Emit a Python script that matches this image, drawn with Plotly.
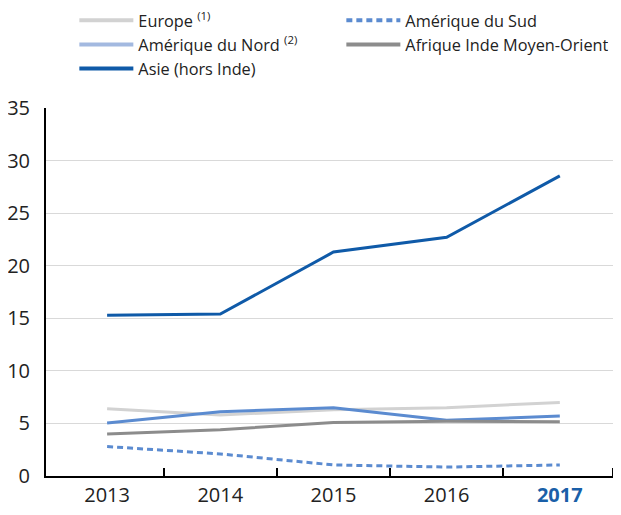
import plotly.graph_objects as go

years = [2013, 2014, 2015, 2016, 2017]
tick_labels = ["2013", "2014", "2015", "2016", "<b><span style='color:#1a5fa8'>2017</span></b>"]

europe = [6.4, 5.8, 6.3, 6.5, 7.0]
amerique_sud = [2.8, 2.1, 1.05, 0.85, 1.05]
amerique_nord = [5.05, 6.1, 6.5, 5.3, 5.7]
afrique_inde_mo = [4.0, 4.4, 5.1, 5.2, 5.15]
asie = [15.3, 15.4, 21.3, 22.7, 28.55]

names = ["Europe <sup>(1)</sup>", "Amérique du Sud", "Amérique du Nord <sup>(2)</sup>",
         "Afrique Inde Moyen-Orient", "Asie (hors Inde)"]
series = [europe, amerique_sud, amerique_nord, afrique_inde_mo, asie]
line_colors = ["#d2d2d2", "#5b8bd0", "#5b8bd0", "#8c8c8c", "#0f5aa8"]
legend_colors = ["#d2d2d2", "#5b8bd0", "#a3b9e0", "#8c8c8c", "#0f5aa8"]
dashes = ["solid", "6px,4px", "solid", "solid", "solid"]

fig = go.Figure()
for name, vals, lc, dash in zip(names, series, line_colors, dashes):
    fig.add_trace(go.Scatter(x=years, y=vals, mode="lines", showlegend=False,
                             line=dict(color=lc, width=3, dash=dash), hoverinfo="skip"))
for name, lc, dash in zip(names, legend_colors, dashes):
    fig.add_trace(go.Scatter(x=[None], y=[None], mode="lines", name=name,
                             line=dict(color=lc, width=4, dash=dash)))

fig.update_layout(
    width=613, height=507,
    margin=dict(l=38, r=8, t=100, b=39, autoexpand=False),
    paper_bgcolor="white", plot_bgcolor="white",
    font=dict(family="Open Sans, Noto Sans, sans-serif", color="#222222"),
    legend=dict(orientation="h", x=0.05, xanchor="left", yref="paper", y=1.285, yanchor="top",
                entrywidth=198, entrywidthmode="pixels", font=dict(size=16.3, color="#222222"),
                itemwidth=54, tracegroupgap=0, bgcolor="rgba(0,0,0,0)"),
    xaxis=dict(range=[2012.46, 2017.47], tickvals=years, ticktext=tick_labels, ticks="",
               showline=True, linecolor="black", linewidth=2, showgrid=False, zeroline=False,
               tickfont=dict(size=20, color="#222222"),
               minor=dict(tickvals=[2013.5, 2014.5, 2015.5, 2016.5, 2017.47], ticks="inside",
                          ticklen=8, tickcolor="black", tickwidth=1.5, showgrid=False)),
    yaxis=dict(range=[0, 35], dtick=5, showline=True, linecolor="black", linewidth=2,
               showgrid=True, gridcolor="#d9d9d9", gridwidth=1, zeroline=False,
               ticks="", ticklabelstandoff=10, tickfont=dict(size=20, color="#222222")),
)

fig.write_html("out.html")
